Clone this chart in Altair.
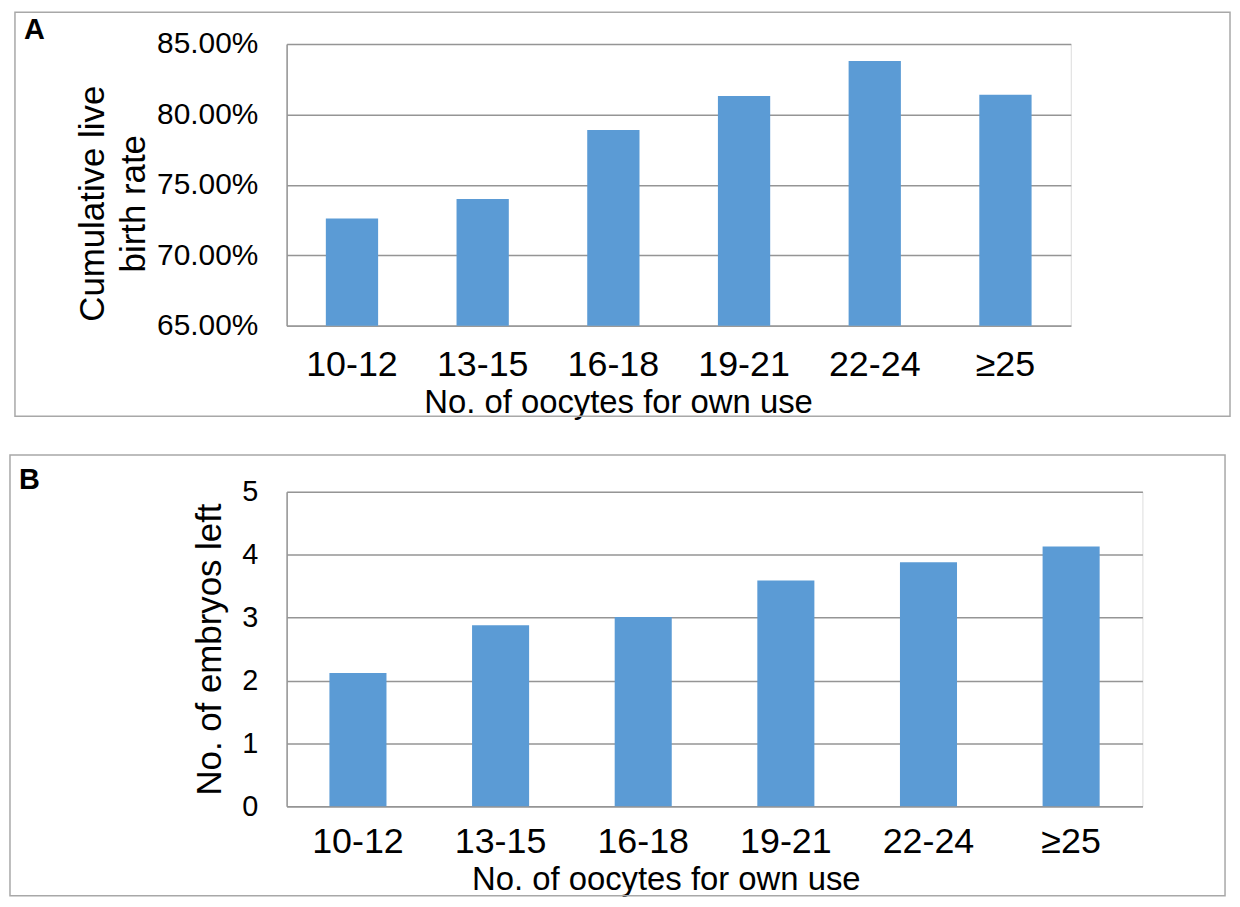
import altair as alt
import pandas as pd

categories = ["10-12", "13-15", "16-18", "19-21", "22-24", "≥25"]
live_birth_rate = [0.726, 0.740, 0.789, 0.813, 0.838, 0.814]
embryos_left = [2.12, 2.88, 3.01, 3.59, 3.88, 4.13]
rate_ticks = [0.65, 0.70, 0.75, 0.80, 0.85]
embryo_ticks = [0, 1, 2, 3, 4, 5]

BLUE = "#5B9BD5"
GRID = "#959595"
BOX = "#a8a8a8"
FONT = "Liberation Sans"

df_a = pd.DataFrame({"group": categories, "rate": live_birth_rate})
df_b = pd.DataFrame({"group": categories, "embryos": embryos_left})
one = pd.DataFrame({"k": [0]})


def x_enc(title_x, title_y, label_pad):
    return alt.X(
        "group:N",
        sort=categories,
        scale=alt.Scale(paddingInner=0.6, paddingOuter=0.3),
        axis=alt.Axis(
            title="No. of oocytes for own use",
            labelAngle=0,
            ticks=False,
            tickSize=0,
            labelPadding=label_pad,
            labelBaseline="alphabetic",
            labelFontSize=36,
            labelFont=FONT,
            labelColor="black",
            domainColor=GRID,
            domainWidth=1.5,
            grid=False,
            titleFont=FONT,
            titleFontSize=33,
            titleFontWeight="normal",
            titleColor="black",
            titleBaseline="alphabetic",
            titleX=title_x,
            titleY=title_y,
        ),
    )


def y_axis(values, fmt, title, title_x, title_y, label_size):
    return alt.Axis(
        values=values,
        format=fmt,
        title=title,
        ticks=False,
        tickSize=0,
        labelPadding=29,
        labelFontSize=label_size,
        labelFont=FONT,
        labelColor="black",
        domainColor=GRID,
        domainWidth=1.5,
        grid=True,
        gridColor=GRID,
        gridWidth=1.5,
        titleFont=FONT,
        titleFontSize=35,
        titleFontWeight="normal",
        titleColor="black",
        titleLineHeight=41,
        titleAngle=270,
        titleBaseline="alphabetic",
        titleAlign="center",
        titleX=title_x,
        titleY=title_y,
    )


def border(x1, x2, y1, y2):
    return alt.Chart(one).mark_rect(
        filled=False, stroke=BOX, strokeWidth=1.5
    ).encode(
        x=alt.value(x1), x2=alt.value(x2), y=alt.value(y1), y2=alt.value(y2)
    )


def letter(t, x, y):
    return alt.Chart(one).mark_text(
        text=t, font=FONT, fontSize=29, fontWeight="bold", color="black",
        align="left", baseline="alphabetic"
    ).encode(x=alt.value(x), y=alt.value(y))


# Panel A
bars_a = alt.Chart(df_a).mark_bar(color=BLUE).encode(
    x=x_enc(333, 87, 50),
    y=alt.Y(
        "rate:Q",
        scale=alt.Scale(domain=[0.65, 0.85], nice=False, zero=False),
        axis=y_axis(rate_ticks, ".2%", ["Cumulative live", "birth rate"], -184, 160, 30),
    ),
    y2=alt.datum(0.65),
)
panel_a = alt.layer(
    bars_a,
    border(-273, 948, -32, 374),
    letter("A", -264, -5),
).properties(width=788, height=283)

# Panel B
bars_b = alt.Chart(df_b).mark_bar(color=BLUE).encode(
    x=x_enc(381, 84, 46),
    y=alt.Y(
        "embryos:Q",
        scale=alt.Scale(domain=[0, 5], nice=False),
        axis=y_axis(embryo_ticks, "d", "No. of embryos left", -66, 158, 29),
    ),
)
panel_b = alt.layer(
    bars_b,
    border(-278, 943, -37, 406),
    letter("B", -269, -3),
).properties(width=860, height=316)

chart = alt.vconcat(panel_a, panel_b, spacing=33).properties(
    padding=0
).configure_view(stroke=None).configure(background="white")

chart.save("out.html", embed_options={"renderer": "svg", "actions": False})
